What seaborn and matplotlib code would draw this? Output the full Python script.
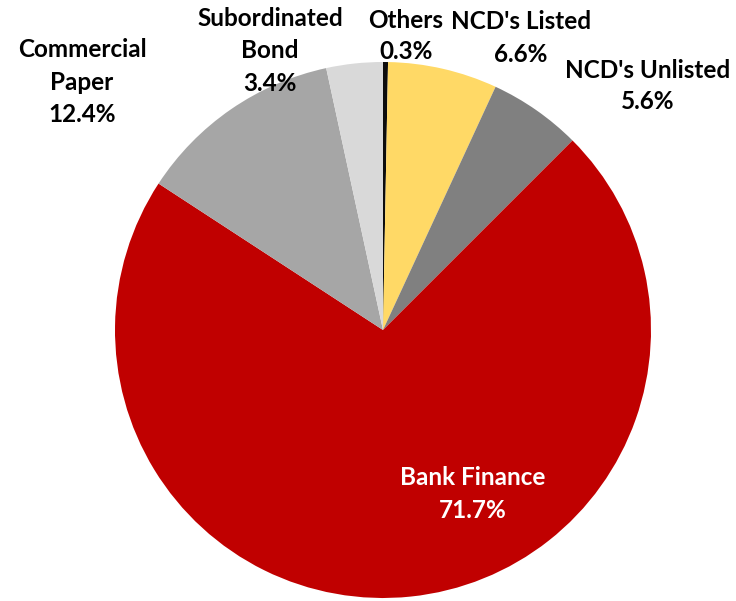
import matplotlib
matplotlib.use("Agg")
import matplotlib.pyplot as plt
import seaborn as sns

# ---- data ----
categories = ["Others", "NCD's Listed", "NCD's Unlisted", "Bank Finance",
              "Commercial Paper", "Subordinated Bond"]
shares = [0.3, 6.6, 5.6, 71.7, 12.4, 3.4]
label_texts = ["Others\n0.3%", "NCD's Listed\n6.6%", "NCD's Unlisted\n5.6%",
               "Bank Finance\n71.7%", "Commercial\nPaper\n12.4%", "Subordinated\nBond\n3.4%"]
colors = ["#0d0d0d", "#FFD966", "#808080", "#C00000", "#A6A6A6", "#D9D9D9"]

sns.set_theme(style="white")
plt.rcParams['font.family'] = ['Lato', 'DejaVu Sans']

W, H = 736, 601
fig = plt.figure(figsize=(W / 100, H / 100), dpi=100)
ax = fig.add_axes([0, 0, 1, 1])

cx, cy, r = 383, H - 330, 268
ax.pie(shares, colors=colors, startangle=90, counterclock=False,
       center=(cx, cy), radius=r, wedgeprops=dict(linewidth=0))
ax.set_xlim(0, W)
ax.set_ylim(0, H)
ax.set_aspect('equal')
ax.axis('off')

# label placement (pixel coords, top-left origin), text colours, line spacing
label_pos = [(406, 36), (521, 38), (648, 86), (473, 494), (82, 82), (270, 51)]
label_col = ["black", "black", "black", "white", "black", "black"]
label_ls = [1.45, 1.55, 1.42, 1.50, 1.52, 1.52]
for txt, (x, y), c, ls in zip(label_texts, label_pos, label_col, label_ls):
    ax.text(x, H - y, txt, ha="center", va="center", fontsize=17.5,
            fontweight="bold", color=c, linespacing=ls)

fig.savefig("out.png", dpi=100)
